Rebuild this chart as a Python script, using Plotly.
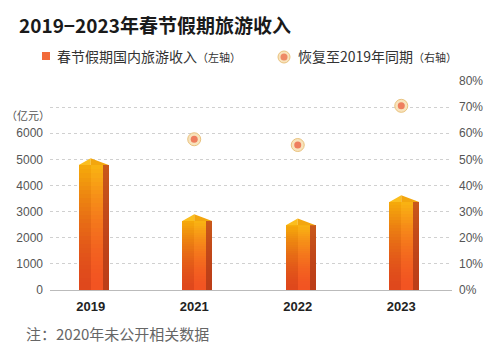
import plotly.graph_objects as go

years = ["2019", "2021", "2022", "2023"]
revenue = [5040, 2900, 2740, 3630]          # 亿元 (left axis)
recovery_years = ["2021", "2022", "2023"]
recovery = [0.577, 0.555, 0.705]            # share of 2019 (right axis)
left_ticks = [0, 1000, 2000, 3000, 4000, 5000, 6000]
right_ticks = [0, 0.1, 0.2, 0.3, 0.4, 0.5, 0.6, 0.7, 0.8]

xpos = {y: i for i, y in enumerate(years)}
FONT = "Liberation Sans, Noto Sans CJK SC, sans-serif"
CJK = "Noto Sans CJK SC, sans-serif"

W = 0.115      # half front width (data units)
S = 0.058      # side depth
D = 260        # roof height (left-axis units)
N = 30         # gradient steps

WIDTH, HEIGHT = 500, 353
ML, MR, MT, MB = 50, 48, 81, 63
PW, PH = WIDTH - ML - MR, HEIGHT - MT - MB


def px(x):
    return (x - ML) / PW


def py(y):
    return (HEIGHT - MB - y) / PH


def lerp(c1, c2, t):
    a = [int(c1[i:i + 2], 16) for i in (1, 3, 5)]
    b = [int(c2[i:i + 2], 16) for i in (1, 3, 5)]
    return "rgb(%d,%d,%d)" % tuple(round(a[j] + (b[j] - a[j]) * t) for j in range(3))


fig = go.Figure()

faces = [
    (-W, W, "#F5A80A", "#DF481C"),   # left front face
    (0.0, W, "#F9B212", "#F25422"),  # right front face
    (W, S, "#C9581A", "#BC3E18"),    # side
]
xs = [xpos[y] for y in years]
for off, wid, ctop, cbot in faces:
    for k in range(N):
        t = (k / (N - 1)) ** 1.6
        col = lerp(cbot, ctop, t)
        fig.add_trace(go.Bar(
            x=xs,
            y=[(v - D) / N for v in revenue],
            base=[(v - D) * k / N for v in revenue],
            offset=off, width=wid,
            marker=dict(color=col, line=dict(width=0)),
            showlegend=False, hoverinfo="skip", yaxis="y",
        ))

# roofs (derived from data values)
rx_l, ry_l, rx_r, ry_r = [], [], [], []
for y, v in zip(years, revenue):
    c = xpos[y]
    rx_l += [c - W, c, c, None]
    ry_l += [v - D, v, v - D, None]
    rx_r += [c, c + W + S, c + W, c, None]
    ry_r += [v, v - D, v - D, v - D, None]
fig.add_trace(go.Scatter(x=rx_l, y=ry_l, fill="toself", mode="none",
                         fillcolor="#FBBE1E", showlegend=False, hoverinfo="skip"))
fig.add_trace(go.Scatter(x=rx_r, y=ry_r, fill="toself", mode="none",
                         fillcolor="#F3A60E", showlegend=False, hoverinfo="skip"))

# recovery points
rx = [xpos[y] for y in recovery_years]
fig.add_trace(go.Scatter(x=rx, y=recovery, yaxis="y2", mode="markers",
                         marker=dict(size=13, color="#F8E3BC",
                                     line=dict(color="#E9C27E", width=1)),
                         showlegend=False, hoverinfo="skip"))
fig.add_trace(go.Scatter(x=rx, y=recovery, yaxis="y2", mode="markers",
                         marker=dict(size=7, color="#EE7E5E", line=dict(width=0)),
                         showlegend=False, hoverinfo="skip"))

fig.update_layout(
    width=WIDTH, height=HEIGHT,
    margin=dict(l=ML, r=MR, t=MT, b=MB, autoexpand=False),
    paper_bgcolor="white", plot_bgcolor="white",
    barmode="overlay", bargap=0,
    font=dict(family=FONT, color="#555555"),
    showlegend=False,
    xaxis=dict(range=[-0.393, 3.49], tickvals=xs,
               ticktext=["<b>%s</b>" % y for y in years],
               tickfont=dict(size=13, color="#222222", family=FONT),
               showgrid=False, zeroline=False, showline=False, ticks="",
               ticklabelstandoff=7),
    yaxis=dict(range=[0, 8000], tickvals=left_ticks,
               ticktext=[str(t) for t in left_ticks],
               tickfont=dict(size=12, color="#555555"),
               showgrid=False, zeroline=False, ticks="", ticklabelstandoff=6),
    yaxis2=dict(range=[0, 0.8], overlaying="y", side="right", tickvals=right_ticks,
                ticktext=["%d%%" % round(t * 100) for t in right_ticks],
                tickfont=dict(size=12, color="#555555"),
                showgrid=True, gridcolor="#D0D0D0", griddash="3px,3px", gridwidth=1,
                zeroline=True, zerolinecolor="#BBBBBB", zerolinewidth=1,
                ticks="", ticklabelstandoff=6),
)

# title
fig.add_annotation(text="<b>2019−2023年春节假期旅游收入</b>", xref="paper", yref="paper",
                   x=px(17), y=py(24), xanchor="left", yanchor="middle", showarrow=False,
                   font=dict(family=CJK, size=19, color="#1a1a1a"))

# manual legend
fig.add_shape(type="rect", xref="paper", yref="paper",
              x0=px(42), x1=px(50), y0=py(60), y1=py(52),
              fillcolor="#F26B3A", line=dict(width=0))
fig.add_annotation(text='春节假期国内旅游收入<span style="font-size:11px">（左轴）</span>',
                   xref="paper", yref="paper", x=px(55), y=py(56),
                   xanchor="left", yanchor="middle", showarrow=False,
                   font=dict(family=CJK, size=14, color="#333333"))
fig.add_shape(type="circle", xref="paper", yref="paper",
              x0=px(278), x1=px(290), y0=py(63), y1=py(51),
              fillcolor="#F8E3BC", line=dict(color="#E9C27E", width=1))
fig.add_shape(type="circle", xref="paper", yref="paper",
              x0=px(280.5), x1=px(287.5), y0=py(60.5), y1=py(53.5),
              fillcolor="#EE8A66", line=dict(width=0))
fig.add_annotation(text='恢复至2019年同期<span style="font-size:11px">（右轴）</span>',
                   xref="paper", yref="paper", x=px(296), y=py(56),
                   xanchor="left", yanchor="middle", showarrow=False,
                   font=dict(family=CJK, size=14, color="#333333"))

fig.add_annotation(text="（亿元）", xref="paper", yref="y", x=0, y=6000,
                   xanchor="right", yanchor="bottom", yshift=8, xshift=2,
                   showarrow=False, font=dict(family=CJK, size=11, color="#555555"))
fig.add_annotation(text="注：2020年未公开相关数据", xref="paper", yref="paper",
                   x=px(24), y=py(333), xanchor="left", yanchor="middle",
                   showarrow=False, font=dict(family=CJK, size=15, color="#666666"))

fig.write_html("out.html")
